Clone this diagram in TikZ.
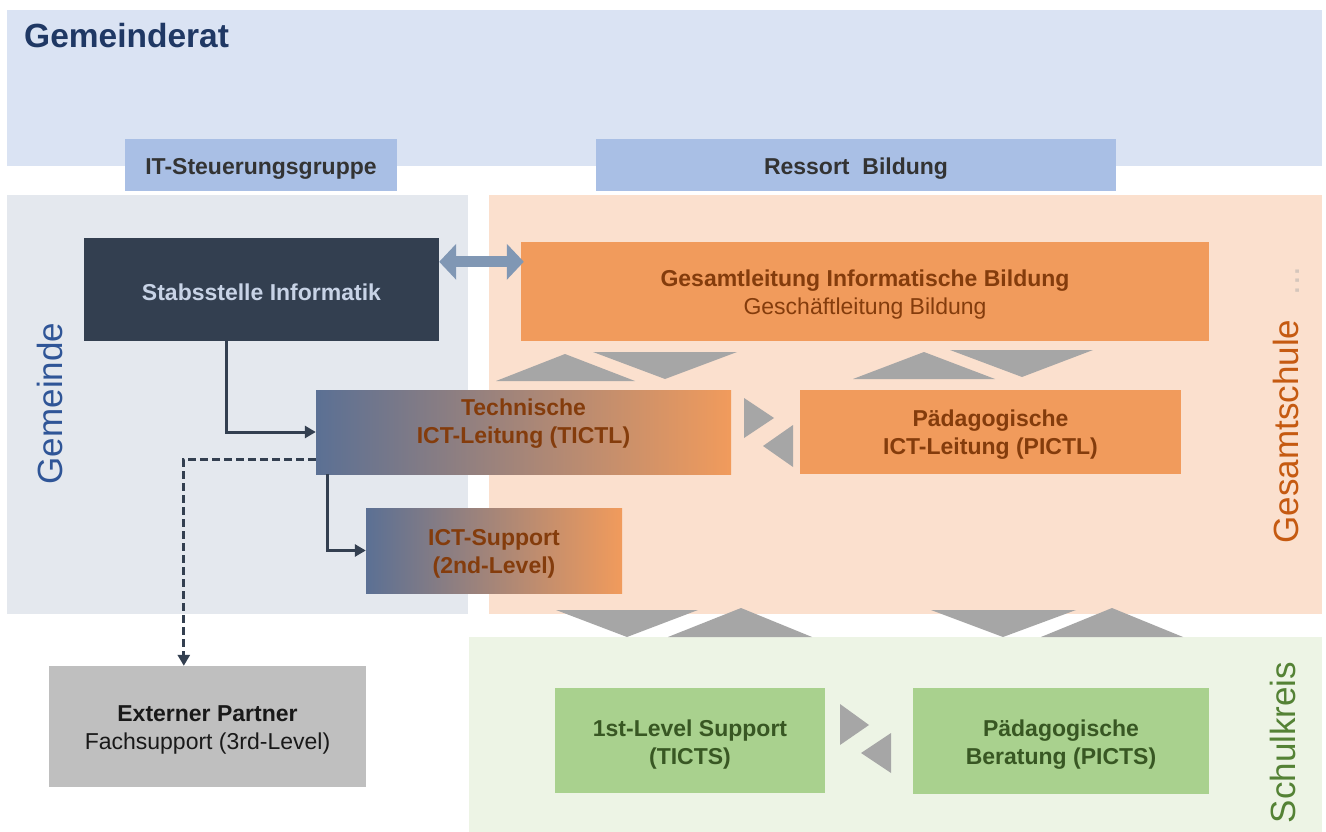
\documentclass[tikz,border=0pt]{standalone}
\usepackage{fontspec}
\setmainfont{Liberation Sans}
\usetikzlibrary{arrows.meta,calc}
\definecolor{gdrat}{HTML}{DAE3F3}
\definecolor{hdrbox}{HTML}{A9BFE5}
\definecolor{gempanel}{HTML}{E4E8EE}
\definecolor{gespanel}{HTML}{FBE0CE}
\definecolor{skpanel}{HTML}{EDF4E5}
\definecolor{navy}{HTML}{333F50}
\definecolor{orangebox}{HTML}{F19B5C}
\definecolor{brown}{HTML}{843C0C}
\definecolor{greenbox}{HTML}{A9D18E}
\definecolor{greentxt}{HTML}{385723}
\definecolor{trigray}{HTML}{A6A6A6}
\definecolor{steel}{HTML}{8097B4}
\definecolor{gradblue}{HTML}{5B7094}
\definecolor{titleblue}{HTML}{1F3864}
\definecolor{gemblue}{HTML}{2F5597}
\definecolor{gesorange}{HTML}{C55A11}
\definecolor{skgreen}{HTML}{548235}
\definecolor{stabtxt}{HTML}{C8D3E6}
\definecolor{dotgray}{HTML}{D5C6BC}
\begin{document}
\begin{tikzpicture}[x=1pt,y=-1pt,
  box/.style={draw=none, inner sep=0pt},
  txt/.style={inner sep=0pt, align=center, font=\fontsize{23}{28}\selectfont},
  btxt/.style={txt, font=\fontsize{23}{28}\selectfont\bfseries},
  vlabel/.style={rotate=90, anchor=base, inner sep=0pt, font=\fontsize{35}{42}\selectfont},
  tri/.style={fill=trigray},
  conn/.style={draw=navy, line width=3pt, -{Triangle[length=11pt,width=12pt]}},
  dconn/.style={draw=navy, line width=3pt, dash pattern=on 8pt off 4pt, -{Triangle[length=11pt,width=12pt]}}]
\useasboundingbox (0,0) rectangle (1326,832);
\fill[white] (0,0) rectangle (1326,832);
% panels
\fill[gdrat] (7,10) rectangle (1322,166);
\fill[gempanel] (7,195) rectangle (468,614);
\fill[gespanel] (489,195) rectangle (1322,614);
\fill[skpanel] (469,637) rectangle (1322,832);
% title
\node[anchor=base west, inner sep=0pt, text=titleblue, font=\fontsize{33.5}{40}\selectfont\bfseries] (title) at (24,48) {Gemeinderat};
% header boxes
\node[box, fill=hdrbox, minimum width=272pt, minimum height=52pt] (itsg) at (261,165) {};
\node[btxt, text=black!80] (itsgt) at ([yshift=-3.5pt]itsg.center) {IT-Steuerungsgruppe};
\node[box, fill=hdrbox, minimum width=520pt, minimum height=52pt] (ress) at (856,165) {};
\node[btxt, text=black!80] (resst) at ([yshift=-3.5pt]ress.center) {Ressort\ \ Bildung};
% vertical labels
\node[vlabel, text=gemblue] (gem) at (62,403.5) {Gemeinde};
\node[vlabel, text=gesorange] (ges) at (1298,431.5) {Gesamtschule};
\node[vlabel, text=dotgray] (dots) at (1299,281) {...};
\node[vlabel, text=skgreen] (sk) at (1295,742.5) {Schulkreis};
% main boxes
\node[box, fill=navy, minimum width=355pt, minimum height=103pt] (stab) at (261.5,289.5) {};
\node[btxt, text=stabtxt] (stabt) at ([yshift=-3pt]stab.center) {Stabsstelle Informatik};
\node[box, fill=orangebox, minimum width=688pt, minimum height=99pt] (gl) at (865,291.5) {};
\node[txt, text=brown] (glt) at ([yshift=-3.5pt]gl.center) {\textbf{Gesamtleitung Informatische Bildung}\\Geschäftleitung Bildung};
\node[box, left color=gradblue, right color=orangebox, minimum width=415pt, minimum height=84pt] (tictl) at (523.5,432) {};
\node[btxt, text=brown] (tictlt) at ([yshift=8pt]tictl.center) {Technische\\ICT-Leitung (TICTL)};
\node[box, left color=gradblue, right color=orangebox, minimum width=256pt, minimum height=85pt] (sup) at (494,550.5) {};
\node[btxt, text=brown] (supt) at ([yshift=-3.5pt]sup.center) {ICT-Support\\(2nd-Level)};
\node[box, fill=orangebox, minimum width=381pt, minimum height=84pt] (pictl) at (990.5,432) {};
\node[btxt, text=brown] (pictlt) at ([yshift=-3pt]pictl.center) {Pädagogische\\ICT-Leitung (PICTL)};
\node[box, fill=black!25, minimum width=317pt, minimum height=121pt] (ext) at (207.5,726.5) {};
\node[txt, text=black!90] (extt) at ([yshift=-3pt]ext.center) {\textbf{Externer Partner}\\Fachsupport (3rd-Level)};
\node[box, fill=greenbox, minimum width=270pt, minimum height=105pt] (l1) at (690,740.5) {};
\node[btxt, text=greentxt] (l1t) at ([yshift=-4pt]l1.center) {1st-Level Support\\(TICTS)};
\node[box, fill=greenbox, minimum width=296pt, minimum height=106pt] (pb) at (1061,741) {};
\node[btxt, text=greentxt] (pbt) at ([yshift=-3.5pt]pb.center) {Pädagogische\\Beratung (PICTS)};
% double arrow
\draw[steel, line width=11pt, {Triangle[length=17pt,width=35pt]}-{Triangle[length=17pt,width=35pt]}] ([yshift=-24pt]stab.north east) -- ([yshift=-20pt,xshift=3pt]gl.north west);
% connectors
\draw[conn] ([xshift=143pt]stab.south west) |- (tictl.west);
\draw[conn] ([xshift=12pt]tictl.south west) |- (sup.west);
\draw[dconn] ([yshift=15pt]tictl.south west) -| ([xshift=135pt]ext.north west);
% triangles top
\fill[tri] (496,381) -- (565,354) -- (635,381) -- cycle;
\fill[tri] (593,352) -- (737,352) -- (665,379) -- cycle;
\fill[tri] (853,379) -- (924,352) -- (995,379) -- cycle;
\fill[tri] (950,350) -- (1093,350) -- (1022,377) -- cycle;
% side triangles
\fill[tri] (744,398) -- (774,418) -- (744,438) -- cycle;
\fill[tri] (793,425) -- (763,446) -- (793,467) -- cycle;
\fill[tri] (840,704) -- (869,725) -- (840,745) -- cycle;
\fill[tri] (891,733) -- (861,753) -- (891,773) -- cycle;
% triangles bottom
\fill[tri] (556,610) -- (698,610) -- (627,637) -- cycle;
\fill[tri] (668,637) -- (741,608) -- (812,637) -- cycle;
\fill[tri] (931,610) -- (1076,610) -- (1003,637) -- cycle;
\fill[tri] (1041,637) -- (1112,608) -- (1183,637) -- cycle;
\end{tikzpicture}
\end{document}
